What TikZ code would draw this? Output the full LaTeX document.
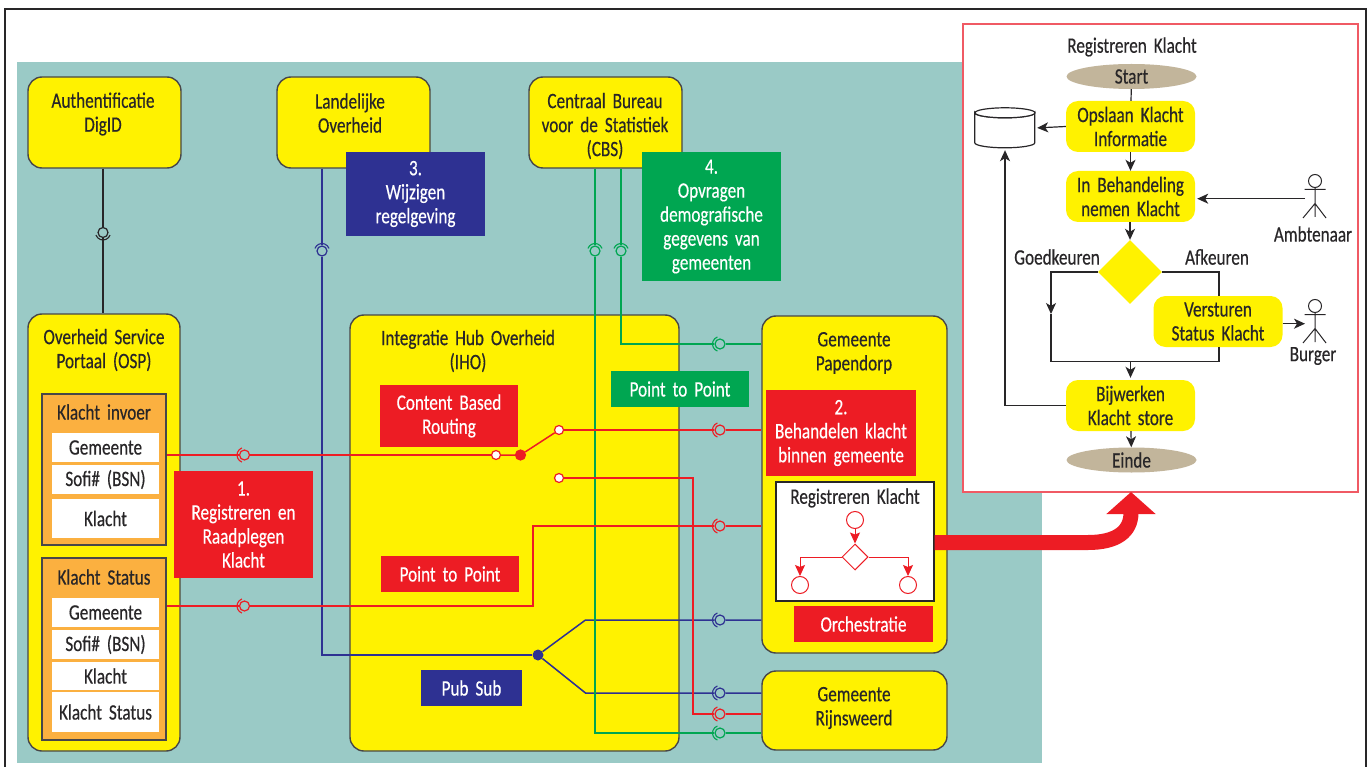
\documentclass[tikz,border=0pt]{standalone}
\usepackage{fontspec}
\setmainfont[FakeStretch=0.78,WordSpace=1.8,FakeBold=0.4]{Carlito}
\usetikzlibrary{arrows.meta,shapes.geometric,calc}
\definecolor{bgteal}{RGB}{154,202,198}
\definecolor{hubyellow}{RGB}{255,242,0}
\definecolor{tagred}{RGB}{237,28,36}
\definecolor{taggreen}{RGB}{0,166,81}
\definecolor{tagblue}{RGB}{46,49,146}
\definecolor{rowsorange}{RGB}{251,176,64}
\definecolor{tantan}{RGB}{194,181,155}
\definecolor{framered}{RGB}{240,90,100}
\definecolor{inkdark}{RGB}{40,38,40}
\tikzset{
  hubBox/.style={draw=inkdark!85,line width=1.4pt,fill=hubyellow,rounded corners=14pt,inner sep=0pt},
  rowsBox/.style={draw=inkdark!85,line width=1.2pt,fill=rowsorange,inner sep=0pt},
  rowCell/.style={fill=white,inner sep=0pt,minimum width=107pt,text=inkdark},
  txt/.style={align=center,text=inkdark,inner sep=0pt},
  tag/.style={align=center,text=white,inner sep=0pt},
  flowBox/.style={align=center,text=inkdark,fill=hubyellow,rounded corners=12pt,inner sep=0pt,minimum width=129pt,minimum height=51pt},
  endBox/.style={ellipse,align=center,text=inkdark,fill=tantan,inner sep=0pt,minimum width=130pt,minimum height=25pt},
  socket/.style={circle,draw=#1,line width=1.2pt,fill=bgteal,inner sep=0pt,minimum size=10pt},
  swDot/.style={circle,draw=tagred,line width=1.2pt,fill=white,inner sep=0pt,minimum size=9pt},
  wire/.style={line width=1.5pt,draw=#1},
  flowArr/.style={line width=1.2pt,draw=inkdark,-{Stealth[length=11pt,width=10pt,inset=3pt]}},
  flowLine/.style={line width=1.2pt,draw=inkdark},
  regCircle/.style={circle,draw=tagred,line width=1pt,fill=white,inner sep=0pt,minimum size=17pt},
  regArr/.style={line width=1pt,draw=tagred,-{Stealth[length=11pt,width=10pt,inset=2pt]}}
}
\begin{document}
\begin{tikzpicture}[x=1pt,y=-1pt,font=\fontsize{22}{24}\selectfont]
  \useasboundingbox (0,0) rectangle (1367,767);
  \draw[line width=1.2pt,inkdark] (5,767) -- (5,9) -- (1366,9) -- (1366,767);
  \fill[bgteal] (17,62) rectangle (1042,763);
  \node[draw=framered,line width=1.6pt,fill=white,inner sep=0pt,minimum width=395pt,minimum height=468pt] (flowFrame) at (1160.5,258) {};

  \node[hubBox,minimum width=153pt,minimum height=91pt] (digid) at (104.5,122.5) {};
  \node[hubBox,minimum width=153pt,minimum height=91pt] (landelijke) at (353.5,122.5) {};
  \node[hubBox,minimum width=153pt,minimum height=91pt] (cbs) at (605.5,122.5) {};
  \node[hubBox,minimum width=152pt,minimum height=437pt] (osp) at (104,532.5) {};
  \node[hubBox,minimum width=329pt,minimum height=436pt] (iho) at (514.5,533) {};
  \node[hubBox,minimum width=185pt,minimum height=337pt] (papendorp) at (854.5,484.5) {};
  \node[hubBox,minimum width=185pt,minimum height=79pt] (rijnsweerd) at (854.5,710.5) {};

  \node[txt] (digidText) at (103,114) {Authentificatie\\DigID};
  \node[txt] (landelijkeText) at (350,113) {Landelijke\\Overheid};
  \node[txt] (cbsText) at (605,126) {Centraal Bureau\\voor de Statistiek\\(CBS)};
  \node[txt] (ospText) at (104,350) {Overheid Service\\Portaal (OSP)};
  \node[txt] (ihoText) at (468,351) {Integratie Hub Overheid\\(IHO)};
  \node[txt] (papendorpText) at (854,353) {Gemeente\\Papendorp};
  \node[txt] (rijnsweerdText) at (854,708) {Gemeente\\Rijnsweerd};

  \node[rowsBox,minimum width=124pt,minimum height=151pt] (invoer) at (104,469.5) {};
  \node[rowsBox,minimum width=124pt,minimum height=182pt] (status) at (104,649) {};
  \node[txt] (invoerText) at (104,412) {Klacht invoer};
  \node[txt] (statusText) at (104,577) {Klacht Status};
  \foreach \n/\y/\h/\t in {rowA/447.5/29/Gemeente,rowB/479.5/29/Sofi\# (BSN),rowC/518.5/39/Klacht,rowD/612.5/29/Gemeente,rowE/644.5/29/Sofi\# (BSN),rowF/676/28/Klacht,rowG/712/40/Klacht Status} {
    \node[rowCell,minimum height=\h pt] (\n) at (105.5,\y) {\t};
  }

  \node[swDot] (dotIn) at (496,455) {};
  \node[swDot,fill=tagred,minimum size=10pt] (dotPivot) at (520.5,455) {};
  \node[swDot] (dotUp) at (559,430) {};
  \node[swDot] (dotDown) at (559,478) {};
  \node[circle,fill=tagblue,inner sep=0pt,minimum size=11pt] (forkBlue) at (538,655) {};
  \coordinate (forkUp) at (585.5,620);
  \coordinate (forkDown) at (585.5,693);
  \coordinate (bendRedA) at (533,606);
  \coordinate (bendRedB) at (693,478);

  \foreach \n/\x/\y/\c/\a/\b in {sockDigid/103/232.5/inkdark/20/160,
      sockLand/322/251/tagblue/200/340,sockCbsA/595/251/taggreen/200/340,sockCbsB/621/251/taggreen/200/340,
      sockOspA/244.5/455/tagred/110/250,sockOspB/244.5/606/tagred/110/250,
      sockPapA/720/344/taggreen/110/250,sockPapB/720/430/tagred/110/250,sockPapC/720/526/tagred/110/250,sockPapD/720/620/tagblue/110/250,
      sockRijA/720/693/tagblue/110/250,sockRijB/720/714/tagred/110/250,sockRijC/720/733/taggreen/110/250} {
    \node[socket=\c] (\n) at (\x,\y) {};
    \draw[\c,line width=1.1pt] (\n.center) ++(\a:7.5) arc (\a:\b:7.5);
  }

  \draw[wire=inkdark] (digid.south -| sockDigid) -- (sockDigid) -- (osp.north -| sockDigid);
  \draw[wire=tagblue] (landelijke.south -| sockLand) -- (sockLand) -- (sockLand |- forkBlue) -- (forkBlue);
  \draw[wire=tagblue] (forkBlue) -- (forkUp) -- (sockPapD) -- (papendorp.west |- sockPapD);
  \draw[wire=tagblue] (forkBlue) -- (forkDown) -- (sockRijA) -- (rijnsweerd.west |- sockRijA);
  \draw[wire=taggreen] (cbs.south -| sockCbsA) -- (sockCbsA) -- (sockCbsA |- sockRijC) -- (sockRijC) -- (rijnsweerd.west |- sockRijC);
  \draw[wire=taggreen] (cbs.south -| sockCbsB) -- (sockCbsB) -- (sockCbsB |- sockPapA) -- (sockPapA) -- (papendorp.west |- sockPapA);
  \draw[wire=tagred] (invoer.east |- dotIn) -- (sockOspA) -- (dotIn);
  \draw[wire=tagred] (dotIn) -- (dotPivot) -- (dotUp);
  \draw[wire=tagred] (dotUp) -- (sockPapB) -- (papendorp.west |- sockPapB);
  \draw[wire=tagred] (dotDown) -- (bendRedB) -- (bendRedB |- sockRijB) -- (sockRijB) -- (rijnsweerd.west |- sockRijB);
  \draw[wire=tagred] (status.east |- sockOspB) -- (sockOspB) -- (bendRedA) -- (bendRedA |- sockPapC) -- (sockPapC) -- (papendorp.west |- sockPapC);

  \node[tag,fill=tagblue,minimum width=139pt,minimum height=84pt] (tagThree) at (415.5,194) {3.\\Wijzigen\\regelgeving};
  \node[tag,fill=taggreen,minimum width=139pt,minimum height=129pt] (tagFour) at (711.5,216.5) {4.\\Opvragen\\demografische\\gegevens van\\gemeenten};
  \node[tag,fill=tagred,minimum width=139pt,minimum height=107pt] (tagOne) at (243.5,524.5) {1.\\Registreren en\\Raadplegen\\Klacht};
  \node[tag,fill=tagred,minimum width=138pt,minimum height=62pt] (tagContent) at (449,416) {Content Based\\Routing};
  \node[tag,fill=taggreen,minimum width=138pt,minimum height=36pt] (tagPointGreen) at (680,389) {Point to Point};
  \node[tag,fill=tagred,minimum width=150pt,minimum height=86pt] (tagTwo) at (841,433) {2.\\Behandelen klacht\\binnen gemeente};
  \node[tag,fill=tagred,minimum width=138pt,minimum height=36pt] (tagPointRed) at (450,574) {Point to Point};
  \node[tag,fill=tagblue,minimum width=101pt,minimum height=36pt] (tagPub) at (471.5,688) {Pub Sub};
  \node[tag,fill=tagred,minimum width=139pt,minimum height=36pt] (tagOrch) at (863.5,624) {Orchestratie};

  \node[draw=inkdark,line width=1.2pt,fill=white,inner sep=0pt,minimum width=158pt,minimum height=119pt] (regBox) at (855,541.5) {};
  \node[txt] (regText) at (855,498) {Registreren Klacht};
  \node[regCircle] (regStart) at (855,520) {};
  \node[diamond,draw=tagred,line width=1pt,fill=white,inner sep=0pt,minimum width=26pt,minimum height=26pt] (regChoice) at (855,557) {};
  \node[regCircle] (regLeft) at (800,585) {};
  \node[regCircle] (regRight) at (908,585) {};
  \draw[regArr] (regStart) -- (regChoice);
  \draw[regArr] (regChoice.west) -| (regLeft.north);
  \draw[regArr] (regChoice.east) -| (regRight.north);

  \coordinate (bigTip) at (1131,492);
  \draw[tagred,line width=15pt,-{Triangle[length=22pt,width=48pt]}] (regBox.east |- 0,542.5) -- (1088,542.5) .. controls (1116,542.5) and (1131,532) .. (bigTip);

  \node[txt] (flowTitle) at (1132,47) {Registreren Klacht};
  \node[endBox] (flowStart) at (1131.5,76.5) {Start};
  \node[flowBox] (opslaan) at (1130.5,126.5) {Opslaan Klacht\\Informatie};
  \node[flowBox] (behandeling) at (1130.5,196.5) {In Behandeling\\nemen Klacht};
  \node[diamond,fill=hubyellow,inner sep=0pt,minimum width=64pt,minimum height=64pt] (keuze) at (1130,272) {};
  \node[flowBox] (versturen) at (1218,321.5) {Versturen\\Status Klacht};
  \node[flowBox] (bijwerken) at (1130.5,405.5) {Bijwerken\\Klacht store};
  \node[endBox] (flowEnd) at (1131.5,460) {Einde};
  \node[inner sep=0pt,minimum width=60pt,minimum height=40pt] (dbStore) at (1005,128) {};
  \draw[inkdark,line width=1.2pt,fill=white] (dbStore.north west) ++(0,5) -- ++(0,30) arc (180:0:30 and 5) -- ++(0,-30) arc (0:180:30 and 5) -- cycle;
  \draw[inkdark,line width=1.2pt,fill=white] (dbStore.north) ++(0,5) ellipse (30 and 5);
  \node[txt] (goedText) at (1057,257) {Goedkeuren};
  \node[txt] (afText) at (1217,257) {Afkeuren};
  \node[txt] (ambtenaarText) at (1313,234) {Ambtenaar};
  \node[txt] (burgerText) at (1313,356) {Burger};

  \foreach \n/\y in {ambtenaar/181,burger/306} {
    \node[circle,draw=inkdark,line width=1pt,inner sep=0pt,minimum size=13pt] (\n Head) at (1315,\y) {};
    \coordinate (\n Hand) at (1305,\y+17.7);
    \draw[inkdark,line width=1pt] (\n Head.south) -- ++(0,29) (\n Head.south) ++(0,15.5) -- ++(-12,14.5) (\n Head.south) ++(0,15.5) -- ++(11,14.5) (\n Head.south) ++(-10.5,1.5) -- ++(21,0);
  }

  \coordinate (mergeLeft) at (1051,361.5);
  \coordinate (mergeRight) at (1219,361.5);
  \coordinate (leftMid) at (1051,314);
  \draw[flowLine] (flowStart) -- (opslaan);
  \draw[flowArr] (opslaan) -- (behandeling);
  \draw[flowArr,shorten >=2pt] (opslaan.west) -- (dbStore.east);
  \draw[flowArr] (behandeling.south -| keuze.north) -- (keuze.north);
  \draw[flowArr,shorten >=2pt] (ambtenaarHand) -- (behandeling.east |- ambtenaarHand);
  \draw[flowArr] (versturen.east |- burgerHand) -- (burgerHand);
  \draw[flowArr] (keuze.west) -| (leftMid);
  \draw[flowLine] (leftMid) -- (mergeLeft) -- (mergeRight) -- (versturen.south -| mergeRight);
  \draw[flowLine] (keuze.east) -| (versturen.north -| mergeRight);
  \draw[flowArr,shorten >=2pt] (mergeLeft -| bijwerken.north) -- (bijwerken.north);
  \draw[flowArr] (bijwerken) -- (flowEnd);
  \draw[flowLine,-{Stealth[length=11pt,width=10pt,inset=3pt]},shorten >=2pt] (bijwerken.west) -- (dbStore.south |- bijwerken.west) -- (dbStore.south);
\end{tikzpicture}
\end{document}
